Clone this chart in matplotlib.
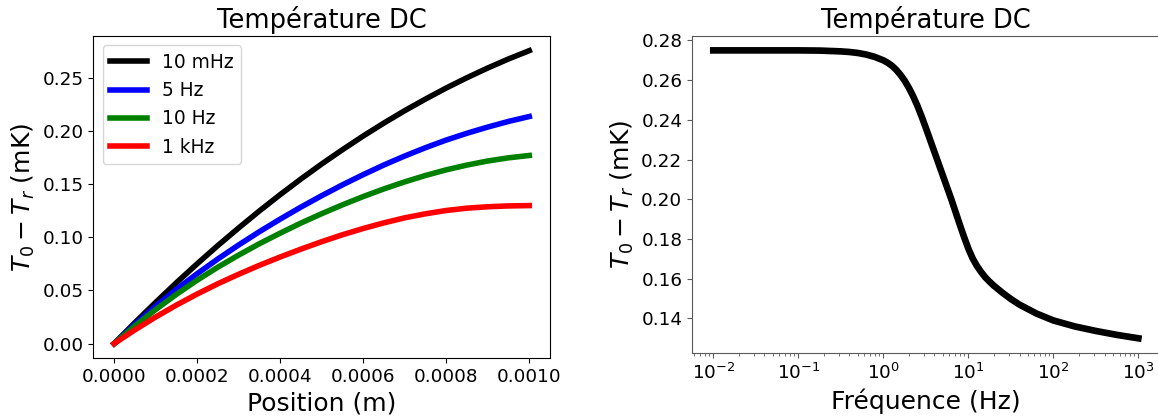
import matplotlib
matplotlib.use("Agg")
import matplotlib.pyplot as plt

# position le long de la barre (m)
position = [0.0, 0.00005, 0.0001, 0.00015, 0.0002, 0.00025, 0.0003, 0.00035, 0.0004, 0.00045, 0.0005,
            0.00055, 0.0006, 0.00065, 0.0007, 0.00075, 0.0008, 0.00085, 0.0009, 0.00095, 0.0010]

# T0 - Tr (mK) pour chaque fréquence
temp_10mhz = [0.0, 0.0197, 0.0387, 0.0572, 0.0750, 0.0922, 0.1087, 0.1247, 0.1400, 0.1547, 0.1688,
              0.1822, 0.1951, 0.2073, 0.2189, 0.2298, 0.2402, 0.2499, 0.2590, 0.2675, 0.2753]
temp_5hz = [0.0, 0.0182, 0.0352, 0.0510, 0.0657, 0.0796, 0.0927, 0.1052, 0.1170, 0.1283, 0.1390,
            0.1492, 0.1588, 0.1679, 0.1763, 0.1841, 0.1913, 0.1977, 0.2035, 0.2088, 0.2134]
temp_10hz = [0.0, 0.0166, 0.0320, 0.0463, 0.0596, 0.0719, 0.0832, 0.0939, 0.1038, 0.1133, 0.1221,
             0.1304, 0.1382, 0.1454, 0.1520, 0.1580, 0.1633, 0.1678, 0.1716, 0.1746, 0.1768]
temp_1khz = [0.0, 0.0129, 0.0250, 0.0362, 0.0466, 0.0563, 0.0652, 0.0736, 0.0814, 0.0888, 0.0958,
             0.1023, 0.1082, 0.1135, 0.1182, 0.1220, 0.1251, 0.1273, 0.1286, 0.1294, 0.1297]

# amplitude en bout de barre en fonction de la fréquence (log10 f, valeur)
log_freq = [-2.0, -1.5, -1.0, -0.75, -0.5, -0.4, -0.3, -0.2, -0.1, 0.0, 0.05, 0.1, 0.15, 0.2, 0.25,
            0.3, 0.35, 0.4, 0.45, 0.5, 0.55, 0.6, 0.65, 0.7, 0.75, 0.8, 0.85, 0.9, 0.95, 1.0, 1.05,
            1.1, 1.15, 1.2, 1.25, 1.3, 1.4, 1.5, 1.6, 1.8, 2.0, 2.25, 2.5, 2.75, 3.0]
temp_freq = [0.2750, 0.2750, 0.2750, 0.2749, 0.2745, 0.2742, 0.2737, 0.2729, 0.2717, 0.2700, 0.2688,
             0.2673, 0.2653, 0.2628, 0.2598, 0.2562, 0.2520, 0.2472, 0.2418, 0.2360, 0.2300, 0.2240,
             0.2180, 0.2120, 0.2060, 0.2000, 0.1936, 0.1872, 0.1810, 0.1752, 0.1703, 0.1665, 0.1634,
             0.1607, 0.1585, 0.1565, 0.1530, 0.1498, 0.1470, 0.1425, 0.1390, 0.1360, 0.1337, 0.1317,
             0.1300]
frequence = [10 ** v for v in log_freq]

fig = plt.figure(figsize=(11.58, 4.17), dpi=100)

# GAUCHE : profil de température
ax1 = fig.add_axes([0.0806, 0.1408, 0.3944, 0.7729])
ax1.plot(position, temp_10mhz, color='black', lw=4, label='10 mHz')
ax1.plot(position, temp_5hz, color='blue', lw=4, label='5 Hz')
ax1.plot(position, temp_10hz, color='green', lw=4, label='10 Hz')
ax1.plot(position, temp_1khz, color='red', lw=4, label='1 kHz')
ax1.set_title("Température DC", fontsize=18.5)
ax1.set_xlabel("Position (m)", fontsize=18)
ax1.set_ylabel(r"$T_0 - T_r$ (mK)", fontsize=18)
ax1.set_xticks([0.0, 0.0002, 0.0004, 0.0006, 0.0008, 0.0010])
ax1.set_xticklabels(["0.0000", "0.0002", "0.0004", "0.0006", "0.0008", "0.0010"])
ax1.tick_params(labelsize=13.2)
ax1.legend(loc='upper left', fontsize=13.4)

# DROITE : dépendance en fréquence
ax2 = fig.add_axes([0.5976, 0.1542, 0.4038, 0.7595])
ax2.plot(frequence, temp_freq, color='black', lw=4.8)
ax2.set_xscale('log')
ax2.set_title("Température DC", fontsize=18.5)
ax2.set_xlabel("Fréquence (Hz)", fontsize=18)
ax2.set_ylabel(r"$T_0 - T_r$ (mK)", fontsize=18)
ax2.set_yticks([0.14, 0.16, 0.18, 0.20, 0.22, 0.24, 0.26, 0.28])
ax2.tick_params(labelsize=13.2)
for sp in ax2.spines.values():
    sp.set_color('0.35')
ax2.tick_params(which='both', color='0.35')

fig.savefig("out.png", dpi=100)
